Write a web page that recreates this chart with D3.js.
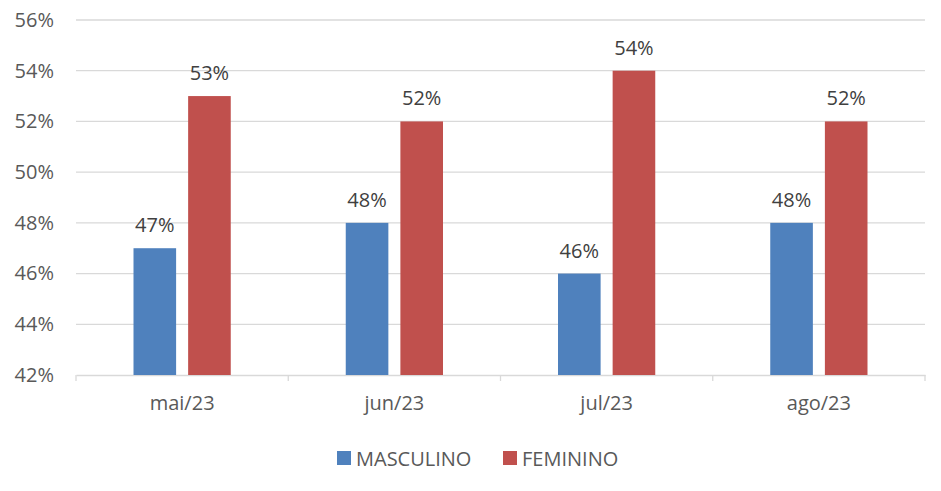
<!DOCTYPE html>
<html>
<head>
<meta charset="utf-8">
<script src="https://cdn.jsdelivr.net/npm/d3@7"></script>
<style>
  body { margin: 0; background: #fff; }
  text { font-family: "Open Sans", "Noto Sans", sans-serif; }
</style>
</head>
<body>
<svg id="chart"></svg>
<script>
const months = ['mai/23', 'jun/23', 'jul/23', 'ago/23'];
const masculino = [47, 48, 46, 48];
const feminino = [53, 52, 54, 52];
const yTicks = [42, 44, 46, 48, 50, 52, 54, 56];
const seriesNames = ['MASCULINO', 'FEMININO'];

const width = 941;
const height = 491;
const margin = { top: 20, right: 16, bottom: 116, left: 76 };

const colors = { MASCULINO: '#4F81BD', FEMININO: '#C0504D' };

const svg = d3.select('#chart').attr('width', width).attr('height', height);

const x = d3.scaleBand().domain(months).range([margin.left, width - margin.right]);
// inner band for the two bars of each month
const xInner = d3.scaleBand().domain(seriesNames).range([57.5, x.bandwidth() - 57.5]).paddingInner(0.22);
const y = d3.scaleLinear().domain([42, 56]).range([height - margin.bottom, margin.top]);

// gridlines
svg.append('g')
    .selectAll('line')
    .data(yTicks.filter(t => t !== 42))
    .enter()
    .append('line')
    .attr('x1', margin.left)
    .attr('x2', width - margin.right)
    .attr('y1', d => y(d))
    .attr('y2', d => y(d))
    .attr('stroke', '#d9d9d9')
    .attr('stroke-width', 1.3);

// y axis labels
svg.append('g')
    .attr('transform', `translate(${margin.left}, 0)`)
    .call(d3.axisLeft(y).tickValues(yTicks).tickFormat(d => d + '%').tickSize(0).tickPadding(22))
    .call(g => g.select('.domain').remove())
    .selectAll('text')
    .style('font-size', '20px')
    .attr('fill', '#595959');

// x axis
const xAxis = svg.append('g')
    .attr('transform', `translate(0, ${y(42)})`)
    .call(d3.axisBottom(x).tickSize(0).tickPadding(21));
xAxis.select('.domain').attr('stroke', '#d9d9d9').attr('stroke-width', 1.3);
xAxis.selectAll('text').style('font-size', '20px').attr('fill', '#595959');

// category separator ticks
svg.append('g')
    .selectAll('line')
    .data(months.concat(['end']))
    .enter()
    .append('line')
    .attr('x1', (d, i) => i < months.length ? x(d) : x(months[months.length - 1]) + x.bandwidth())
    .attr('x2', (d, i) => i < months.length ? x(d) : x(months[months.length - 1]) + x.bandwidth())
    .attr('y1', y(42))
    .attr('y2', y(42) + 6)
    .attr('stroke', '#d9d9d9')
    .attr('stroke-width', 1.3);

// bars
const seriesData = { MASCULINO: masculino, FEMININO: feminino };
seriesNames.forEach(name => {
    const vals = seriesData[name];
    svg.append('g')
        .selectAll('rect')
        .data(months)
        .enter()
        .append('rect')
        .attr('x', d => x(d) + xInner(name))
        .attr('y', (d, i) => y(vals[i]))
        .attr('width', xInner.bandwidth())
        .attr('height', (d, i) => y(42) - y(vals[i]))
        .attr('fill', colors[name]);

    svg.append('g')
        .selectAll('text')
        .data(months)
        .enter()
        .append('text')
        .attr('x', d => x(d) + xInner(name) + xInner.bandwidth() / 2)
        .attr('y', (d, i) => y(vals[i]) - 16)
        .attr('text-anchor', 'middle')
        .style('font-size', '20px')
        .attr('fill', '#404040')
        .text((d, i) => vals[i] + '%');
});

// legend
const legend = svg.append('g').attr('transform', `translate(337, 451)`);
const legendX = [0, 166];
seriesNames.forEach((name, i) => {
    legend.append('rect')
        .attr('x', legendX[i])
        .attr('y', 0)
        .attr('width', 14)
        .attr('height', 14)
        .attr('fill', colors[name]);
    legend.append('text')
        .attr('x', legendX[i] + 19)
        .attr('y', 15)
        .style('font-size', '20px')
        .attr('fill', '#595959')
        .text(name);
});
</script>
</body>
</html>
